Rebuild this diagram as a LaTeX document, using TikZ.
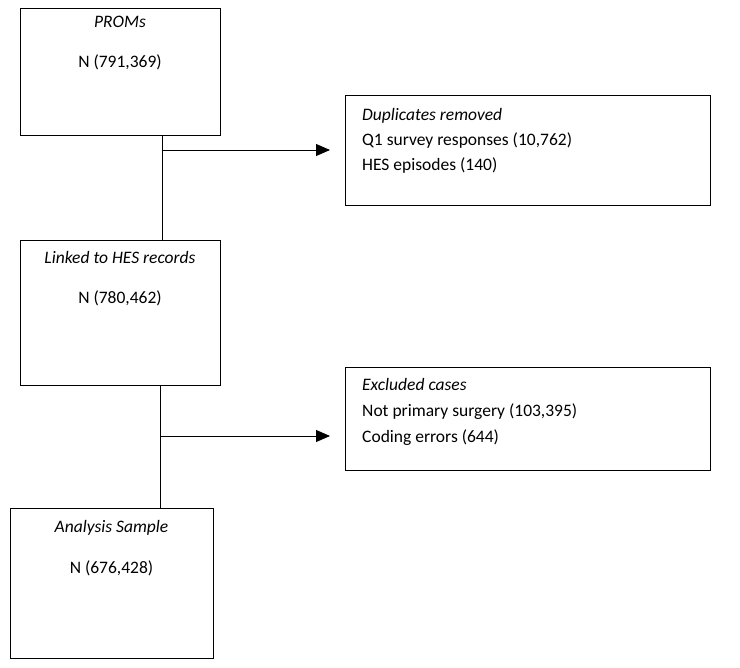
\documentclass[tikz,border=0pt]{standalone}
\usepackage{fontspec}
\setmainfont{Carlito}
\usetikzlibrary{arrows.meta}
\begin{document}
\begin{tikzpicture}[x=1pt,y=-1pt,
  box/.style={draw=black, line width=0.9pt, rectangle, inner sep=0pt},
  txt/.style={anchor=base, inner sep=0pt, font=\fontsize{17.5}{21}\selectfont},
  ltxt/.style={anchor=base west, inner sep=0pt, font=\fontsize{17.5}{21}\selectfont},
  conn/.style={draw=black, line width=0.9pt},
  arr/.style={conn, -{Triangle[length=14pt,width=12pt]}}]
\useasboundingbox (0,0) rectangle (740,668);
% main boxes
\node[box, minimum width=200pt, minimum height=127pt] (b1) at (120,71.5) {};
\node[box, minimum width=200pt, minimum height=145pt] (b2) at (120,312.5) {};
\node[box, minimum width=203pt, minimum height=150pt] (b3) at (111.5,583) {};
% side boxes
\node[box, minimum width=365pt, minimum height=110pt] (s1) at (527.5,150) {};
\node[box, minimum width=365pt, minimum height=103pt] (s2) at (527.5,418.5) {};
% texts of main boxes
\node[txt] (t1a) at (120,28) {\textit{PROMs}};
\node[txt] (t1b) at (120,68) {N (791,369)};
\node[txt] (t2a) at (120,264) {\textit{Linked to HES records}};
\node[txt] (t2b) at (120,304) {N (780,462)};
\node[txt] (t3a) at (111.5,533) {\textit{Analysis Sample}};
\node[txt] (t3b) at (111.5,574) {N (676,428)};
% texts of side boxes
\node[ltxt] (u1a) at (362,121) {\textit{Duplicates removed}};
\node[ltxt] (u1b) at (362,146) {Q1 survey responses (10,762)};
\node[ltxt] (u1c) at (362,171) {HES episodes (140)};
\node[ltxt] (u2a) at (362,391) {\textit{Excluded cases}};
\node[ltxt] (u2b) at (362,417) {Not primary surgery (103,395)};
\node[ltxt] (u2c) at (362,443) {Coding errors (644)};
% junctions
\coordinate (j1) at (162,150);
\coordinate (j2) at (160,436);
\coordinate (e1) at (330,150);
\coordinate (e2) at (330,436);
% connectors
\draw[conn] (b1.south -| j1) -- (b2.north -| j1);
\draw[arr] (j1) -- (e1);
\draw[conn] (b2.south -| j2) -- (b3.north -| j2);
\draw[arr] (j2) -- (e2);
\end{tikzpicture}
\end{document}
